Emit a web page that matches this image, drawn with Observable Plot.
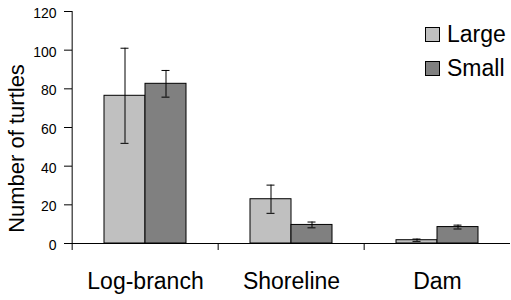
<!DOCTYPE html>
<html><head><meta charset="utf-8">
<script src="https://cdn.jsdelivr.net/npm/d3@7"></script>
<script src="https://cdn.jsdelivr.net/npm/@observablehq/plot@0.6"></script>
<style>
body{margin:0;background:#fff}
#wrap{position:relative;width:511px;height:300px;font-family:"Liberation Sans",Arial,sans-serif;color:#000}
#wrap svg{overflow:visible}
.leg{position:absolute;left:425px;display:flex;align-items:center;font-size:23px;line-height:22px}
.sw{display:inline-block;width:15px;height:15px;box-sizing:border-box;border:1px solid #000;margin-right:7px}
</style></head><body><div id="wrap"></div>
<script>
const sites = ["Log-branch", "Shoreline", "Dam"];
const sizes = ["Large", "Small"];
const large = [76.4, 22.9, 1.7];
const largeErr = [24.6, 7.3, 0.6];
const small = [82.6, 9.6, 8.5];
const smallErr = [6.9, 1.5, 1.0];
const yTicks = [0, 20, 40, 60, 80, 100, 120];
const yTitle = "Number of turtles";
const colors = ["#c0c0c0", "#808080"];

const W = 511, H = 300, mL = 71, mR = 0, mT = 11, mB = 57;
const facetW = (W - mL - mR) / sites.length;
const pxPerUnit = (H - mT - mB) / 120;
const drop = 7 / pxPerUnit;

const rows = sites.flatMap((s, i) => [
  {site: s, size: sizes[0], value: large[i], err: largeErr[i]},
  {site: s, size: sizes[1], value: small[i], err: smallErr[i]}
]);

const plot = Plot.plot({
  width: W, height: H,
  marginLeft: mL, marginRight: mR, marginTop: mT, marginBottom: mB,
  style: {fontFamily: '"Liberation Sans", Arial, sans-serif', color: "#000", background: "#fff"},
  fx: {domain: sites, padding: 0},
  x: {domain: sizes, paddingInner: 0, paddingOuter: 0.76, axis: null},
  y: {domain: [0, 120]},
  color: {domain: sizes, range: colors},
  marks: [
    Plot.barY(rows, {fx: "site", x: "size", y: "value", fill: "size", stroke: "#000", strokeWidth: 1}),
    Plot.ruleX(rows, {fx: "site", x: "size", y1: d => d.value - d.err, y2: d => d.value + d.err, stroke: "#000"}),
    Plot.tickY(rows, {fx: "site", x: "size", y: d => d.value - d.err, inset: 16.5, stroke: "#000"}),
    Plot.tickY(rows, {fx: "site", x: "size", y: d => d.value + d.err, inset: 16.5, stroke: "#000"}),
    Plot.ruleY([0], {stroke: "#000"}),
    Plot.ruleX(sites, {fx: d => d, x: null, y1: -drop, y2: 0, dx: -facetW / 2, stroke: "#000"}),
    Plot.ruleX([sites[0]], {fx: d => d, x: null, y1: 0, y2: 120, dx: -facetW / 2, stroke: "#000"}),
    Plot.axisY({ticks: yTicks, tickSize: 8, tickFormat: () => "", label: null, stroke: "#000"}),
    Plot.axisY({ticks: yTicks, tickSize: 0, tickPadding: 16, fontSize: 14, dy: 2, label: null, fill: "#000"}),
    Plot.axisFx({anchor: "bottom", tickSize: 0, tickPadding: 29, fontSize: 23, label: null, fill: "#000"}),
    Plot.text([yTitle], {fx: () => sites[0], frameAnchor: "left", textAnchor: "middle", rotate: -90, dx: -56, dy: 21, fontSize: 22, fill: "#000"})
  ]
});

const wrap = document.getElementById("wrap");
wrap.appendChild(plot);
sizes.forEach((s, i) => {
  const row = document.createElement("div");
  row.className = "leg";
  row.style.top = (23 + i * 34) + "px";
  const sw = document.createElement("span");
  sw.className = "sw";
  sw.style.background = colors[i];
  const t = document.createElement("span");
  t.textContent = s;
  row.appendChild(sw);
  row.appendChild(t);
  wrap.appendChild(row);
});
</script></body></html>
